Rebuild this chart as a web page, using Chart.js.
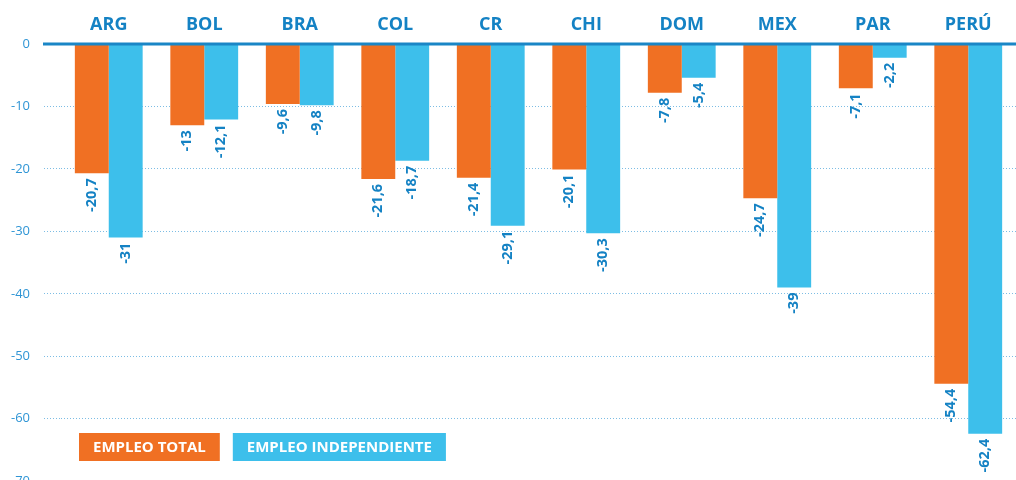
<!DOCTYPE html>
<html>
<head>
<meta charset="utf-8">
<script src="https://cdn.jsdelivr.net/npm/chart.js@4.4.1/dist/chart.umd.min.js"></script>
<style>
  html, body { margin: 0; padding: 0; background: #fff; overflow: hidden; }
  #wrap { width: 1016px; height: 503px; }
</style>
</head>
<body>
<div id="wrap"><canvas id="empleoChart"></canvas></div>
<script>
//////////////////////// Data ////////////////////////
const countries = ['ARG', 'BOL', 'BRA', 'COL', 'CR', 'CHI', 'DOM', 'MEX', 'PAR', 'PERÚ'];
const empleoTotal = [-20.7, -13, -9.6, -21.6, -21.4, -20.1, -7.8, -24.7, -7.1, -54.4];
const empleoIndependiente = [-31, -12.1, -9.8, -18.7, -29.1, -30.3, -5.4, -39, -2.2, -62.4];
const yTicks = [0, -10, -20, -30, -40, -50, -60, -70];

const ORANGE = '#f07023';
const BLUE = '#3dbfeb';
const TEXT_BLUE = '#1482c4';
const GRID = '#7cbde4';
const FONT = '"Open Sans", "Noto Sans", sans-serif';

// zero line across the whole width (including the tick area)
const zeroLine = {
    id: 'zeroLine',
    afterDatasetsDraw(chart) {
        const y = chart.scales.y.getPixelForValue(0);
        const ctx = chart.ctx;
        ctx.save();
        ctx.strokeStyle = '#1a86c6';
        ctx.lineWidth = 3;
        ctx.beginPath();
        ctx.moveTo(43, y);
        ctx.lineTo(chart.width, y);
        ctx.stroke();
        ctx.restore();
    }
};

// rotated value labels under each bar
const valueLabels = {
    id: 'valueLabels',
    afterDatasetsDraw(chart) {
        const ctx = chart.ctx;
        ctx.save();
        ctx.font = 'bold 14.5px ' + FONT;
        ctx.fillStyle = TEXT_BLUE;
        ctx.textAlign = 'right';
        ctx.textBaseline = 'middle';
        chart.data.datasets.forEach((ds, i) => {
            chart.getDatasetMeta(i).data.forEach((bar, j) => {
                const txt = String(ds.data[j]).replace('.', ',');
                ctx.save();
                ctx.translate(bar.x, bar.y + 5);
                ctx.rotate(-Math.PI / 2);
                ctx.fillText(txt, 0, 0);
                ctx.restore();
            });
        });
        ctx.restore();
    }
};

// boxed legend inside the chart
const boxLegend = {
    id: 'boxLegend',
    afterDraw(chart) {
        const ctx = chart.ctx;
        let x = 79;
        const top = 433, h = 28, padX = 14;
        ctx.save();
        ctx.font = 'bold 15px ' + FONT;
        ctx.textBaseline = 'middle';
        chart.data.datasets.forEach((ds) => {
            const w = ctx.measureText(ds.label).width + padX * 2;
            ctx.fillStyle = ds.backgroundColor;
            ctx.fillRect(x, top, w, h);
            ctx.fillStyle = '#ffffff';
            ctx.textAlign = 'left';
            ctx.fillText(ds.label, x + padX, top + h / 2 + 1);
            x += w + 13;
        });
        ctx.restore();
    }
};

document.addEventListener('DOMContentLoaded', () => {
    const data = {
        labels: countries,
        datasets: [
            { label: 'EMPLEO TOTAL', data: empleoTotal, backgroundColor: ORANGE },
            { label: 'EMPLEO INDEPENDIENTE', data: empleoIndependiente, backgroundColor: BLUE }
        ]
    };

    const config = {
        type: 'bar',
        data: data,
        options: {
            responsive: true,
            maintainAspectRatio: false,
            animation: false,
            layout: { padding: 0 },
            datasets: {
                bar: { categoryPercentage: 0.71, barPercentage: 1.0 }
            },
            plugins: {
                legend: { display: false },
                tooltip: { enabled: false }
            },
            scales: {
                x: {
                    position: 'top',
                    afterFit: (scale) => { scale.height = 44; },
                    grid: { display: false },
                    border: { display: false },
                    ticks: {
                        color: TEXT_BLUE,
                        font: { family: FONT, size: 18, weight: 'bold' },
                        padding: 0
                    }
                },
                y: {
                    min: -70,
                    max: 0,
                    afterBuildTicks: (scale) => {
                        scale.ticks = yTicks.map(v => ({ value: v }));
                    },
                    afterFit: (scale) => { scale.width = 61; },
                    grid: {
                        color: GRID,
                        lineWidth: 1,
                        tickLength: 17,
                        tickColor: GRID,
                        tickBorderDash: [1, 2]
                    },
                    border: { display: false, dash: [1, 2] },
                    ticks: {
                        color: '#2f95d5',
                        font: { family: FONT, size: 13 },
                        padding: 14
                    }
                }
            }
        },
        plugins: [zeroLine, valueLabels, boxLegend]
    };

    const ctx = document.getElementById('empleoChart').getContext('2d');
    new Chart(ctx, config);
});
</script>
</body>
</html>
